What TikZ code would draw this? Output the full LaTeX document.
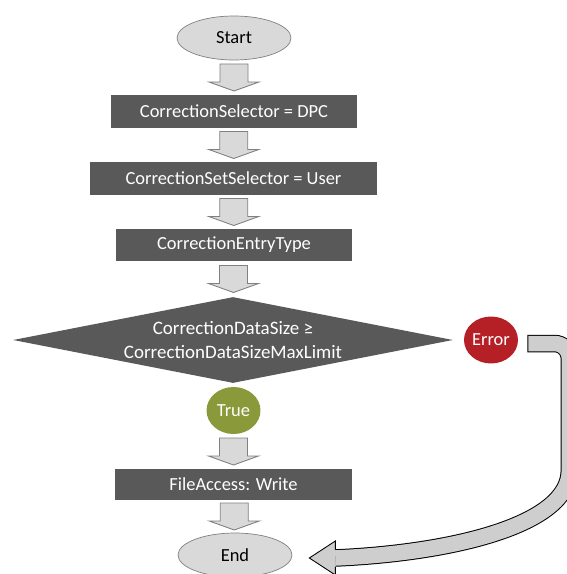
\documentclass[tikz,border=0pt]{standalone}
\usepackage{fontspec}
\setmainfont{Carlito}
\usepackage{tikz}
\usetikzlibrary{shapes.geometric,calc}
\definecolor{boxgray}{RGB}{89,89,89}
\definecolor{lightgray}{RGB}{217,217,217}
\definecolor{edgegray}{RGB}{128,128,128}
\definecolor{errred}{RGB}{180,32,38}
\definecolor{trueolive}{RGB}{138,154,59}
\newcommand{\flowarrow}[2]{\draw[blockarr] ($(#1.south)!0.5!(#2.north)$) ++(-14,-13.5) -- ++(28,0) -- ++(0,18) -- ++(11,0) -- ++(-25,9) -- ++(-25,-9) -- ++(11,0) -- cycle;}

\begin{document}
\begin{tikzpicture}[x=0.02cm,y=-0.02cm,font=\fontsize{10.5}{14}\selectfont,
  box/.style={fill=boxgray,text=white,minimum height=0.66cm,inner sep=0pt},
  term/.style={ellipse,draw=edgegray,fill=lightgray,minimum width=2.28cm,minimum height=0.88cm,inner sep=0pt},
  circ/.style={ellipse,text=white,minimum width=1.08cm,minimum height=0.94cm,inner sep=0pt},
  blockarr/.style={draw=edgegray,fill=lightgray,line width=0.5pt}
]
  \useasboundingbox (0,0) rectangle (567,574);
  \node[term] (start) at (234,38) {Start};
  \node[box,minimum width=4.92cm] (sel) at (234,111.5) {CorrectionSelector = DPC};
  \node[box,minimum width=5.74cm] (setsel) at (233.5,178.5) {CorrectionSetSelector = User};
  \node[box,minimum width=4.72cm,minimum height=0.64cm] (entry) at (234,245) {CorrectionEntryType};
  \node[diamond,fill=boxgray,minimum width=8.8cm,minimum height=1.72cm,inner sep=0pt] (cond) at (233,340) {};
  \node[text=white,align=center,font=\fontsize{10.8}{14}\selectfont] (condtext) at (cond) {CorrectionDataSize ≥\\CorrectionDataSizeMaxLimit};
  \node[circ,fill=errred] (err) at (491,340) {Error};
  \node[circ,fill=trueolive] (tru) at (233.5,410.5) {True};
  \node[box,minimum width=4.74cm,minimum height=0.62cm] (fa) at (233.5,484.5) {FileAccess: Write};
  \node[term] (end) at (235,555) {End};

  \flowarrow{start}{sel}
  \flowarrow{sel}{setsel}
  \flowarrow{setsel}{entry}
  \flowarrow{entry}{cond}
  \flowarrow{tru}{fa}
  \flowarrow{fa}{end}

  % error path back to End
  \coordinate (ea) at ($(err.east)+(9,3.5)$);
  \coordinate (eb) at ($(end.east)+(17,3)$);
  \coordinate (ec) at ($(ea)+(42,0)$);
  \coordinate (ed) at ($(ec)+(0,112)$);
  \coordinate (ee) at ($(ed)+(0,70)$);
  \coordinate (ef) at ($(eb)+(141,-5)$);
  \coordinate (eg) at ($(eb)+(26,0)$);
  \draw[black,line width=0.35cm,rounded corners=0.3cm] (ea) -- (ec) -- (ed) .. controls (ee) and (ef) .. (eg);
  \draw[lightgray!95!black,line width=0.31cm,rounded corners=0.3cm,shorten <=0.02cm] (ea) -- (ec) -- (ed) .. controls (ee) and (ef) .. (eg);
  \fill[lightgray!95!black] (eb) -- ($(eb)+(26,-17)$) -- ($(eb)+(26,17)$) -- cycle;
  \draw[line width=0.5pt] ($(eg)+(0,-8.5)$) -- ($(eb)+(26,-17)$) -- (eb) -- ($(eb)+(26,17)$) -- ($(eg)+(0,8.5)$);
\end{tikzpicture}
\end{document}
